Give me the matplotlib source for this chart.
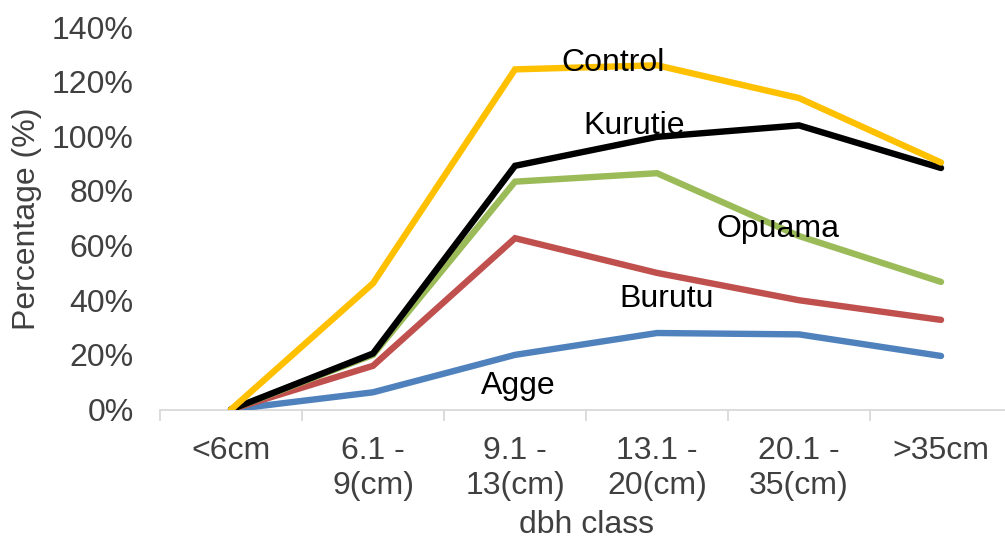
import numpy as np
import matplotlib.pyplot as plt
from matplotlib.ticker import FuncFormatter

plt.rcParams['font.family'] = ['Liberation Sans', 'DejaVu Sans']

# classes de diametre
classes = ['<6cm', '6.1 -\n9(cm)', '9.1 -\n13(cm)', '13.1 -\n20(cm)', '20.1 -\n35(cm)', '>35cm']

# pourcentages par site
agge = [0, 6.3, 20, 28, 27.5, 19.6]
burutu = [0, 16, 62.7, 50, 40, 32.8]
opuama = [0, 20, 83.4, 86.5, 63.5, 46.7]
kurutie = [0, 20.5, 89.2, 99.8, 104, 88.4]
control = [0, 46.2, 124.5, 126, 114, 90.4]

series = [
    ('Agge', agge, '#4F81BD', (2.02, 8.6)),
    ('Burutu', burutu, '#C0504D', (3.07, 40.4)),
    ('Opuama', opuama, '#9BBB59', (3.85, 66)),
    ('Kurutie', kurutie, '#000000', (2.84, 103.8)),
    ('Control', control, '#FFC000', (2.69, 126.8)),
]

fig = plt.figure(figsize=(10.05, 5.45), dpi=100)
ax = fig.add_axes([0.1592, 0.2486, 0.8478, 0.7018])

x = np.arange(len(classes))
for nom, valeurs, couleur, pos in series:
    ax.plot(x, np.array(valeurs) / 100, color=couleur, lw=4.6, solid_capstyle='round',
            solid_joinstyle='miter', zorder=3)
    ax.text(pos[0], pos[1] / 100, nom, ha='center', va='center', fontsize=23,
            color='black', zorder=4)

ax.set_xlim(-0.5, 5.5)
ax.set_ylim(0, 1.4)
ax.set_yticks(np.arange(0, 1.41, 0.2))
ax.yaxis.set_major_formatter(FuncFormatter(lambda v, p: '{:.0f}%'.format(v * 100)))

ax.set_xticks(x)
ax.set_xticklabels(classes)
ax.set_xticks(np.arange(-0.5, 5.6, 1), minor=True)
ax.tick_params(axis='x', which='major', length=0, pad=19, labelsize=23, labelcolor='#404040')
ax.tick_params(axis='x', which='minor', length=8, width=1.3, color='#D9D9D9')
ax.tick_params(axis='y', length=0, pad=19, labelsize=23, labelcolor='#404040')

for s in ['left', 'right', 'top']:
    ax.spines[s].set_visible(False)
ax.spines['bottom'].set_color('#D9D9D9')
ax.spines['bottom'].set_linewidth(1.3)

ax.set_xlabel('dbh class', fontsize=23, color='#404040', labelpad=7)
ax.set_ylabel('Percentage (%)', fontsize=23, color='#404040', labelpad=7)

fig.savefig('out.png', dpi=100)
